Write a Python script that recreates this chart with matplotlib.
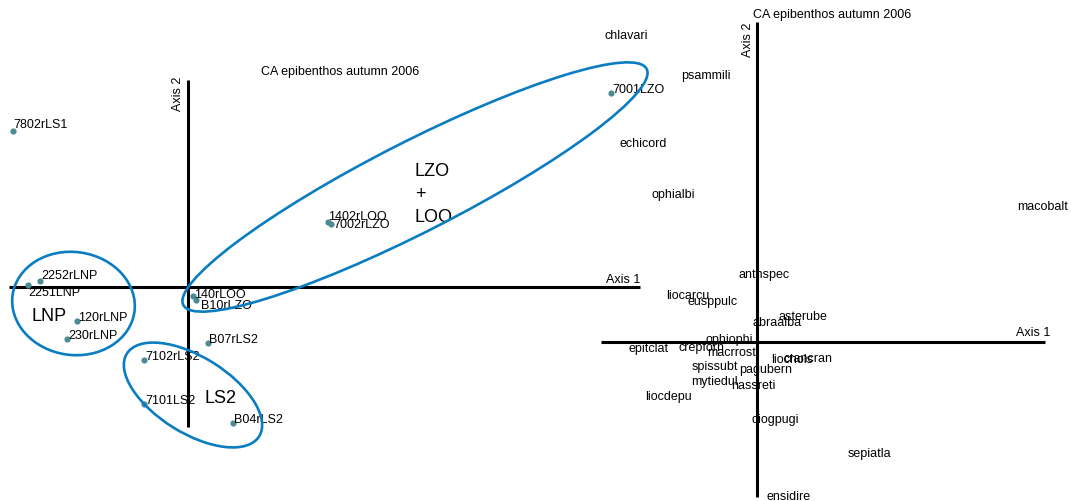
import matplotlib
matplotlib.use("Agg")
import matplotlib.pyplot as plt
from matplotlib.patches import Ellipse

plt.rcParams['font.family'] = ['Liberation Sans', 'DejaVu Sans']

TITLE = "CA epibenthos autumn 2006"

# site scores (left panel)
sites = ["7802rLS1", "2252rLNP", "2251LNP", "120rLNP", "230rLNP",
         "140rLOO", "B10rLZO", "B07rLS2", "7102rLS2", "7101LS2",
         "B04rLS2", "1402rLOO", "7002rLZO", "7001LZO"]
site_ax1 = [-1.75, -1.48, -1.60, -1.11, -1.21,
            0.05, 0.085, 0.205, -0.44, -0.44,
            0.45, 1.40, 1.43, 4.23]
site_ax2 = [1.56, 0.06, 0.02, -0.34, -0.52,
            -0.09, -0.13, -0.56, -0.73, -1.17,
            -1.36, 0.65, 0.63, 1.94]

# species scores (right panel)
species = ["chlavari", "psammili", "echicord", "ophialbi", "macobalt",
           "anthspec", "liocarcu", "eusppulc", "asterube", "abraalba",
           "ophiophi", "epitclat", "crepforn", "macrrost", "liochols",
           "crancran", "spissubt", "pagubern", "mytiedul", "nassreti",
           "liocdepu", "diogpugi", "sepiatla", "ensidire"]
spec_ax1 = [-1.52, -0.76, -1.37, -1.05, 2.60,
            -0.18, -0.91, -0.69, 0.22, -0.04,
            -0.51, -1.28, -0.78, -0.50, 0.14,
            0.27, -0.65, -0.18, -0.66, -0.26,
            -1.12, -0.05, 0.91, 0.10]
spec_ax2 = [3.08, 2.68, 2.00, 1.49, 1.37,
            0.69, 0.48, 0.42, 0.27, 0.21,
            0.04, -0.05, -0.04, -0.09, -0.16,
            -0.15, -0.23, -0.26, -0.38, -0.42,
            -0.53, -0.76, -1.10, -1.53]

# label nudges in pixels (default is slightly up-right of the point)
nudge = {"7802rLS1": (0, 6.5), "2252rLNP": (1, 6), "2251LNP": (0, -7),
         "140rLOO": (1.5, 1.5), "B10rLZO": (4.5, -5), "1402rLOO": (0, 6),
         "7002rLZO": (2, -0.5)}

dot_color = "#4b8b93"
ring_color = "#0a7dc2"
px = 0.72  # points per pixel at dpi 100

fig = plt.figure(figsize=(10.71, 5.02), dpi=100)

# ---- left panel: sites
ax = fig.add_axes([0, 0, 1, 1])
ax.set_xlim(-1.88, 8.83)
ax.set_ylim(-2.143, 2.877)
ax.axis('off')
ax.patch.set_alpha(0)

ax.plot([-1.79, 4.52], [0, 0], color='black', lw=2.2, solid_capstyle='butt')
ax.plot([0, 0], [-1.40, 2.07], color='black', lw=2.2, solid_capstyle='butt')
ax.text(4.52, 0.015, "Axis 1", ha='right', va='bottom', fontsize=9)
ax.text(-0.10, 2.107, "Axis 2", ha='center', va='top', rotation=90, fontsize=9)
ax.text(0.73, 2.154, TITLE, ha='left', va='center', fontsize=9)

ax.scatter(site_ax1, site_ax2, s=20, color=dot_color, zorder=3, linewidths=0)
for name, x, y in zip(sites, site_ax1, site_ax2):
    dx, dy = nudge.get(name, (1, 3.5))
    ax.annotate(name, (x, y), xytext=(dx * px, dy * px), textcoords='offset points',
                ha='left', va='center', fontsize=9)

for cx, cy, w, h, ang in [(-1.145, -0.168, 1.23, 1.03, -8),
                          (0.05, -1.083, 1.56, 0.76, -32),
                          (2.27, 0.997, 5.2, 0.9, 27)]:
    ax.add_patch(Ellipse((cx, cy), w, h, angle=ang, fill=False,
                         edgecolor=ring_color, lw=1.9, zorder=4))

ax.text(-1.385, -0.293, "LNP", ha='center', va='center', fontsize=13)
ax.text(0.325, -1.113, "LS2", ha='center', va='center', fontsize=13)
ax.text(2.27, 0.93, "LZO\n+\nLOO", ha='left', va='center', fontsize=13,
        linespacing=1.45)

# ---- right panel: species
ax2 = fig.add_axes([0, 0, 1, 1])
ax2.set_xlim(-7.57, 3.14)
ax2.set_ylim(-1.593, 3.427)
ax2.axis('off')
ax2.patch.set_alpha(0)

ax2.plot([-1.56, 2.88], [0, 0], color='black', lw=2.2, solid_capstyle='butt')
ax2.plot([0, 0], [-1.55, 3.20], color='black', lw=2.2, solid_capstyle='butt')
ax2.text(2.93, 0.04, "Axis 1", ha='right', va='bottom', fontsize=9)
ax2.text(-0.093, 3.197, "Axis 2", ha='center', va='top', rotation=90, fontsize=9)
ax2.text(-0.04, 3.274, TITLE, ha='left', va='center', fontsize=9)

for name, x, y in zip(species, spec_ax1, spec_ax2):
    ax2.text(x, y - 0.015, name, ha='left', va='center', fontsize=9)

fig.savefig("out.png", dpi=100)
